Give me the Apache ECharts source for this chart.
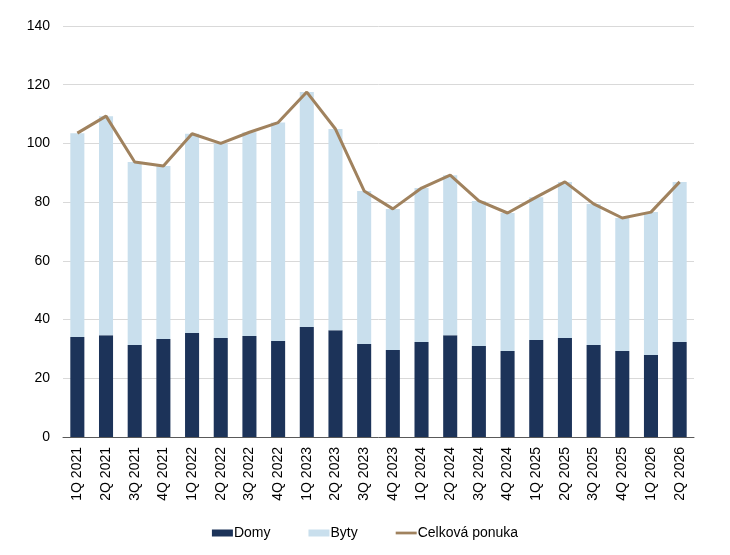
<!DOCTYPE html>
<html>
<head>
<meta charset="utf-8">
<script src="https://cdn.jsdelivr.net/npm/echarts@6/dist/echarts.min.js"></script>
<style>
  html, body { margin: 0; padding: 0; background: #fff; }
  #chart { width: 730px; height: 555px; }
</style>
</head>
<body>
<div id="chart"></div>
<script>
// kvartály
const categories = ['1Q 2021', '2Q 2021', '3Q 2021', '4Q 2021', '1Q 2022', '2Q 2022', '3Q 2022', '4Q 2022',
  '1Q 2023', '2Q 2023', '3Q 2023', '4Q 2023', '1Q 2024', '2Q 2024', '3Q 2024', '4Q 2024',
  '1Q 2025', '2Q 2025', '3Q 2025', '4Q 2025', '1Q 2026', '2Q 2026'];
// domy
const domy = [34.1, 34.7, 31.3, 33.4, 35.4, 33.7, 34.4, 32.7, 37.5, 36.4, 31.7, 29.6,
  32.4, 34.7, 31.0, 29.3, 33.0, 33.7, 31.3, 29.3, 27.9, 32.4];
// byty
const byty = [69.4, 74.6, 62.4, 58.9, 67.9, 66.3, 69.4, 74.4, 80.0, 68.5, 52.1, 48.1,
  52.4, 54.5, 49.4, 47.0, 48.7, 53.2, 48.1, 45.3, 48.7, 54.5];
// celková ponuka
const celkova = [103.5, 109.3, 93.7, 92.3, 103.3, 100.0, 103.8, 107.1, 117.5, 104.9, 83.8, 77.7,
  84.8, 89.2, 80.4, 76.3, 81.7, 86.9, 79.4, 74.6, 76.6, 86.9];
const yTicks = [0, 20, 40, 60, 80, 100, 120, 140];

const chart = echarts.init(document.getElementById('chart'));
const font = 'Liberation Sans, Arial, sans-serif';

chart.setOption({
  animation: false,
  textStyle: { fontFamily: font },
  grid: { left: 63, right: 36, top: 26, bottom: 118 },
  legend: {
    top: 521,
    left: 'center',
    itemGap: 38,
    itemWidth: 21,
    itemHeight: 7,
    textStyle: { fontSize: 14, color: '#000', fontFamily: font, padding: [0, 0, 0, -4] },
    data: [
      { name: 'Domy', icon: 'rect' },
      { name: 'Byty', icon: 'rect' },
      { name: 'Celková ponuka', icon: 'path://M0,0 L20,0 L20,2.6 L0,2.6 Z' }
    ]
  },
  xAxis: {
    type: 'category',
    data: categories,
    axisLine: { lineStyle: { color: '#595959', width: 1 } },
    axisTick: { show: false },
    axisLabel: { rotate: 90, fontSize: 14, color: '#000', margin: 10, interval: 0 }
  },
  yAxis: {
    type: 'value',
    min: yTicks[0],
    max: yTicks[yTicks.length - 1],
    interval: 20,
    axisLine: { show: false },
    axisTick: { show: false },
    axisLabel: { fontSize: 14, color: '#000', margin: 13 },
    splitLine: { lineStyle: { color: '#d9d9d9' } }
  },
  series: [
    {
      name: 'Domy', type: 'bar', stack: 'total', data: domy,
      barWidth: '49%',
      itemStyle: { color: '#1c3359' }
    },
    {
      name: 'Byty', type: 'bar', stack: 'total', data: byty,
      itemStyle: { color: '#c9dfed' }
    },
    {
      name: 'Celková ponuka', type: 'line', data: celkova,
      symbol: 'none',
      lineStyle: { color: '#a0825e', width: 3 },
      itemStyle: { color: '#a0825e' }
    }
  ]
});
</script>
</body>
</html>
